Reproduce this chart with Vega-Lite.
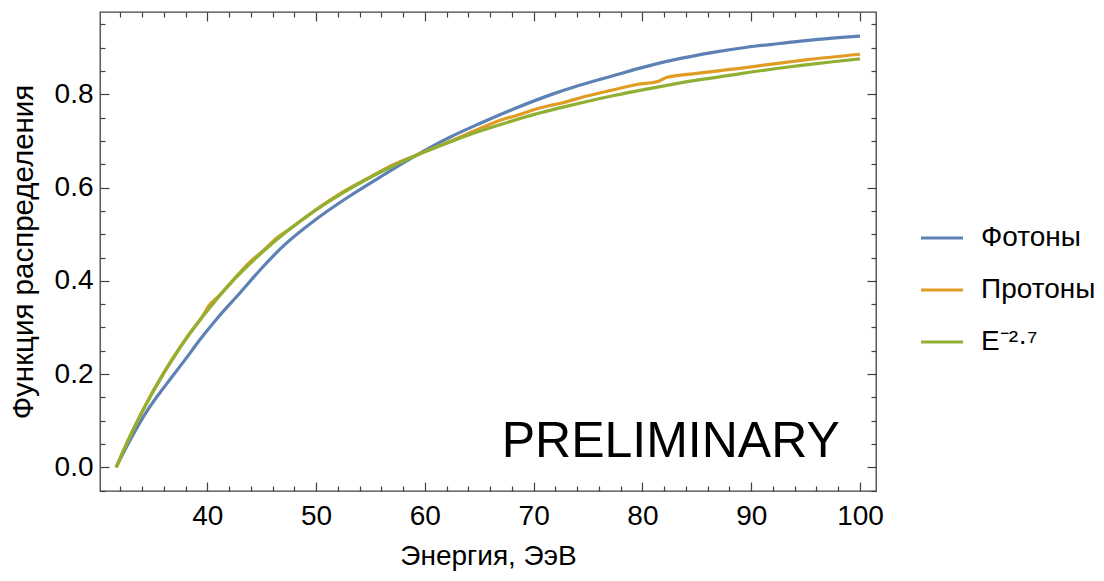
{
  "$schema": "https://vega.github.io/schema/vega-lite/v6.json",
  "width": 776,
  "height": 479,
  "autosize": {"type": "none"},
  "padding": {"left": 100, "top": 12, "right": 228, "bottom": 90},
  "config": {
    "font": "Liberation Sans",
    "view": {"stroke": "#404040", "strokeWidth": 1.3},
    "axis": {
      "domain": false,
      "grid": false,
      "tickColor": "#404040",
      "tickWidth": 1.2,
      "labelColor": "#000000",
      "labelFont": "Liberation Sans",
      "labelFontSize": 28,
      "titleFont": "Liberation Sans",
      "titleFontSize": 28,
      "titleFontWeight": "normal",
      "titleColor": "#000000"
    }
  },
  "datasets": {
    "curves": [
      {"s": "Фотоны", "e": 31.62, "f": 0.0},
      {"s": "Фотоны", "e": 32.9, "f": 0.058},
      {"s": "Фотоны", "e": 34.5, "f": 0.122},
      {"s": "Фотоны", "e": 36.3, "f": 0.18},
      {"s": "Фотоны", "e": 38.0, "f": 0.232},
      {"s": "Фотоны", "e": 39.3, "f": 0.273},
      {"s": "Фотоны", "e": 41.0, "f": 0.322},
      {"s": "Фотоны", "e": 43.0, "f": 0.374},
      {"s": "Фотоны", "e": 45.0, "f": 0.427},
      {"s": "Фотоны", "e": 47.0, "f": 0.475},
      {"s": "Фотоны", "e": 50.0, "f": 0.532},
      {"s": "Фотоны", "e": 53.1, "f": 0.582},
      {"s": "Фотоны", "e": 56.2, "f": 0.627},
      {"s": "Фотоны", "e": 59.2, "f": 0.669},
      {"s": "Фотоны", "e": 62.3, "f": 0.708},
      {"s": "Фотоны", "e": 65.0, "f": 0.737},
      {"s": "Фотоны", "e": 68.1, "f": 0.768},
      {"s": "Фотоны", "e": 71.8, "f": 0.801},
      {"s": "Фотоны", "e": 74.3, "f": 0.82},
      {"s": "Фотоны", "e": 77.3, "f": 0.84},
      {"s": "Фотоны", "e": 80.4, "f": 0.86},
      {"s": "Фотоны", "e": 83.5, "f": 0.877},
      {"s": "Фотоны", "e": 86.5, "f": 0.89},
      {"s": "Фотоны", "e": 89.6, "f": 0.901},
      {"s": "Фотоны", "e": 92.6, "f": 0.909},
      {"s": "Фотоны", "e": 95.7, "f": 0.917},
      {"s": "Фотоны", "e": 100.0, "f": 0.925},
      {"s": "Протоны", "e": 31.62, "f": 0.0},
      {"s": "Протоны", "e": 33.0, "f": 0.072},
      {"s": "Протоны", "e": 35.0, "f": 0.163},
      {"s": "Протоны", "e": 36.5, "f": 0.222},
      {"s": "Протоны", "e": 38.0, "f": 0.275},
      {"s": "Протоны", "e": 39.8, "f": 0.333},
      {"s": "Протоны", "e": 40.1, "f": 0.345},
      {"s": "Протоны", "e": 41.0, "f": 0.366},
      {"s": "Протоны", "e": 42.5, "f": 0.405},
      {"s": "Протоны", "e": 44.0, "f": 0.442},
      {"s": "Протоны", "e": 45.0, "f": 0.462},
      {"s": "Протоны", "e": 46.5, "f": 0.494},
      {"s": "Протоны", "e": 47.5, "f": 0.51},
      {"s": "Протоны", "e": 50.0, "f": 0.553},
      {"s": "Протоны", "e": 52.0, "f": 0.584},
      {"s": "Протоны", "e": 55.0, "f": 0.623},
      {"s": "Протоны", "e": 57.0, "f": 0.648},
      {"s": "Протоны", "e": 60.0, "f": 0.677},
      {"s": "Протоны", "e": 62.5, "f": 0.701},
      {"s": "Протоны", "e": 65.0, "f": 0.726},
      {"s": "Протоны", "e": 67.0, "f": 0.745},
      {"s": "Протоны", "e": 68.5, "f": 0.755},
      {"s": "Протоны", "e": 70.0, "f": 0.767},
      {"s": "Протоны", "e": 71.5, "f": 0.776},
      {"s": "Протоны", "e": 72.5, "f": 0.781},
      {"s": "Протоны", "e": 75.0, "f": 0.797},
      {"s": "Протоны", "e": 77.0, "f": 0.808},
      {"s": "Протоны", "e": 79.5, "f": 0.821},
      {"s": "Протоны", "e": 81.5, "f": 0.828},
      {"s": "Протоны", "e": 82.2, "f": 0.836},
      {"s": "Протоны", "e": 85.0, "f": 0.845},
      {"s": "Протоны", "e": 90.0, "f": 0.859},
      {"s": "Протоны", "e": 95.0, "f": 0.874},
      {"s": "Протоны", "e": 100.0, "f": 0.886},
      {"s": "E⁻²·⁷", "e": 31.62, "f": 0.0},
      {"s": "E⁻²·⁷", "e": 33.0, "f": 0.0713},
      {"s": "E⁻²·⁷", "e": 35.0, "f": 0.1616},
      {"s": "E⁻²·⁷", "e": 37.5, "f": 0.2567},
      {"s": "E⁻²·⁷", "e": 40.0, "f": 0.336},
      {"s": "E⁻²·⁷", "e": 42.5, "f": 0.4036},
      {"s": "E⁻²·⁷", "e": 45.0, "f": 0.4602},
      {"s": "E⁻²·⁷", "e": 47.5, "f": 0.5094},
      {"s": "E⁻²·⁷", "e": 50.0, "f": 0.5521},
      {"s": "E⁻²·⁷", "e": 52.5, "f": 0.5893},
      {"s": "E⁻²·⁷", "e": 55.0, "f": 0.6221},
      {"s": "E⁻²·⁷", "e": 57.5, "f": 0.6511},
      {"s": "E⁻²·⁷", "e": 60.0, "f": 0.6767},
      {"s": "E⁻²·⁷", "e": 62.5, "f": 0.6995},
      {"s": "E⁻²·⁷", "e": 65.0, "f": 0.7206},
      {"s": "E⁻²·⁷", "e": 67.5, "f": 0.7392},
      {"s": "E⁻²·⁷", "e": 70.0, "f": 0.7564},
      {"s": "E⁻²·⁷", "e": 72.5, "f": 0.7714},
      {"s": "E⁻²·⁷", "e": 75.0, "f": 0.7853},
      {"s": "E⁻²·⁷", "e": 77.5, "f": 0.7981},
      {"s": "E⁻²·⁷", "e": 80.0, "f": 0.8097},
      {"s": "E⁻²·⁷", "e": 82.5, "f": 0.8204},
      {"s": "E⁻²·⁷", "e": 85.0, "f": 0.8304},
      {"s": "E⁻²·⁷", "e": 87.5, "f": 0.8389},
      {"s": "E⁻²·⁷", "e": 90.0, "f": 0.8479},
      {"s": "E⁻²·⁷", "e": 92.5, "f": 0.8559},
      {"s": "E⁻²·⁷", "e": 95.0, "f": 0.8631},
      {"s": "E⁻²·⁷", "e": 97.5, "f": 0.8699},
      {"s": "E⁻²·⁷", "e": 100.0, "f": 0.8762}
    ],
    "stamp": [
      {"t": "PRELIMINARY", "e": 82.6, "f": 0.023}
    ]
  },
  "layer": [
    {
      "data": {"name": "curves"},
      "mark": {"type": "line", "strokeWidth": 3.2, "clip": true, "interpolate": "monotone"},
      "encoding": {
        "x": {
          "field": "e", "type": "quantitative",
          "scale": {"domain": [30.14, 101.47], "nice": false, "zero": false},
          "axis": {
            "orient": "bottom",
            "values": [40, 50, 60, 70, 80, 90, 100],
            "tickSize": -9,
            "labelPadding": 20,
            "title": "Энергия, ЭэВ",
            "titlePadding": 12
          }
        },
        "y": {
          "field": "f", "type": "quantitative",
          "scale": {"domain": [-0.0508, 0.9766], "nice": false, "zero": false},
          "axis": {
            "orient": "left",
            "values": [0, 0.2, 0.4, 0.6, 0.8],
            "format": ".1f",
            "tickSize": -9,
            "labelPadding": 16,
            "title": "Функция распределения",
            "titleFontSize": 29.5,
            "titlePadding": 16
          }
        },
        "color": {
          "field": "s", "type": "nominal",
          "scale": {
            "domain": ["Фотоны", "Протоны", "E⁻²·⁷"],
            "range": ["#5E81B5", "#E19C24", "#8FB032"]
          },
          "legend": {
            "orient": "none",
            "legendX": 819,
            "legendY": 203,
            "title": null,
            "padding": 0,
            "symbolType": "stroke",
            "symbolSize": 1764,
            "symbolStrokeWidth": 3.2,
            "labelFont": "Liberation Sans",
            "labelFontSize": 28,
            "labelColor": "#000000",
            "labelOffset": 16,
            "rowPadding": 15
          }
        }
      }
    },
    {
      "data": {"name": "curves"},
      "mark": {"type": "line", "opacity": 0},
      "encoding": {
        "x": {
          "field": "e", "type": "quantitative",
          "axis": {
            "orient": "bottom",
            "values": [32, 34, 36, 38, 42, 44, 46, 48, 52, 54, 56, 58, 62, 64, 66, 68, 72, 74, 76, 78, 82, 84, 86, 88, 92, 94, 96, 98],
            "tickSize": -5,
            "labels": false,
            "title": null
          }
        },
        "y": {
          "field": "f", "type": "quantitative",
          "axis": {
            "orient": "left",
            "values": [-0.05, 0.05, 0.1, 0.15, 0.25, 0.3, 0.35, 0.45, 0.5, 0.55, 0.65, 0.7, 0.75, 0.85, 0.9, 0.95],
            "tickSize": -5,
            "labels": false,
            "title": null
          }
        }
      }
    },
    {
      "data": {"name": "curves"},
      "mark": {"type": "line", "opacity": 0},
      "encoding": {
        "x": {
          "field": "e", "type": "quantitative",
          "axis": {
            "orient": "top",
            "values": [40, 50, 60, 70, 80, 90, 100],
            "tickSize": -9,
            "labels": false,
            "title": null
          }
        },
        "y": {
          "field": "f", "type": "quantitative",
          "axis": {
            "orient": "right",
            "values": [0, 0.2, 0.4, 0.6, 0.8],
            "tickSize": -9,
            "labels": false,
            "title": null
          }
        }
      }
    },
    {
      "data": {"name": "curves"},
      "mark": {"type": "line", "opacity": 0},
      "encoding": {
        "x": {
          "field": "e", "type": "quantitative",
          "axis": {
            "orient": "top",
            "values": [32, 34, 36, 38, 42, 44, 46, 48, 52, 54, 56, 58, 62, 64, 66, 68, 72, 74, 76, 78, 82, 84, 86, 88, 92, 94, 96, 98],
            "tickSize": -5,
            "labels": false,
            "title": null
          }
        },
        "y": {
          "field": "f", "type": "quantitative",
          "axis": {
            "orient": "right",
            "values": [-0.05, 0.05, 0.1, 0.15, 0.25, 0.3, 0.35, 0.45, 0.5, 0.55, 0.65, 0.7, 0.75, 0.85, 0.9, 0.95],
            "tickSize": -5,
            "labels": false,
            "title": null
          }
        }
      }
    },
    {
      "data": {"name": "stamp"},
      "mark": {"type": "text", "font": "Liberation Sans", "fontSize": 50, "align": "center", "baseline": "alphabetic", "color": "#000000"},
      "encoding": {
        "x": {"field": "e", "type": "quantitative", "axis": null},
        "y": {"field": "f", "type": "quantitative", "axis": null},
        "text": {"field": "t"}
      }
    }
  ],
  "resolve": {"axis": {"x": "independent", "y": "independent"}}
}
